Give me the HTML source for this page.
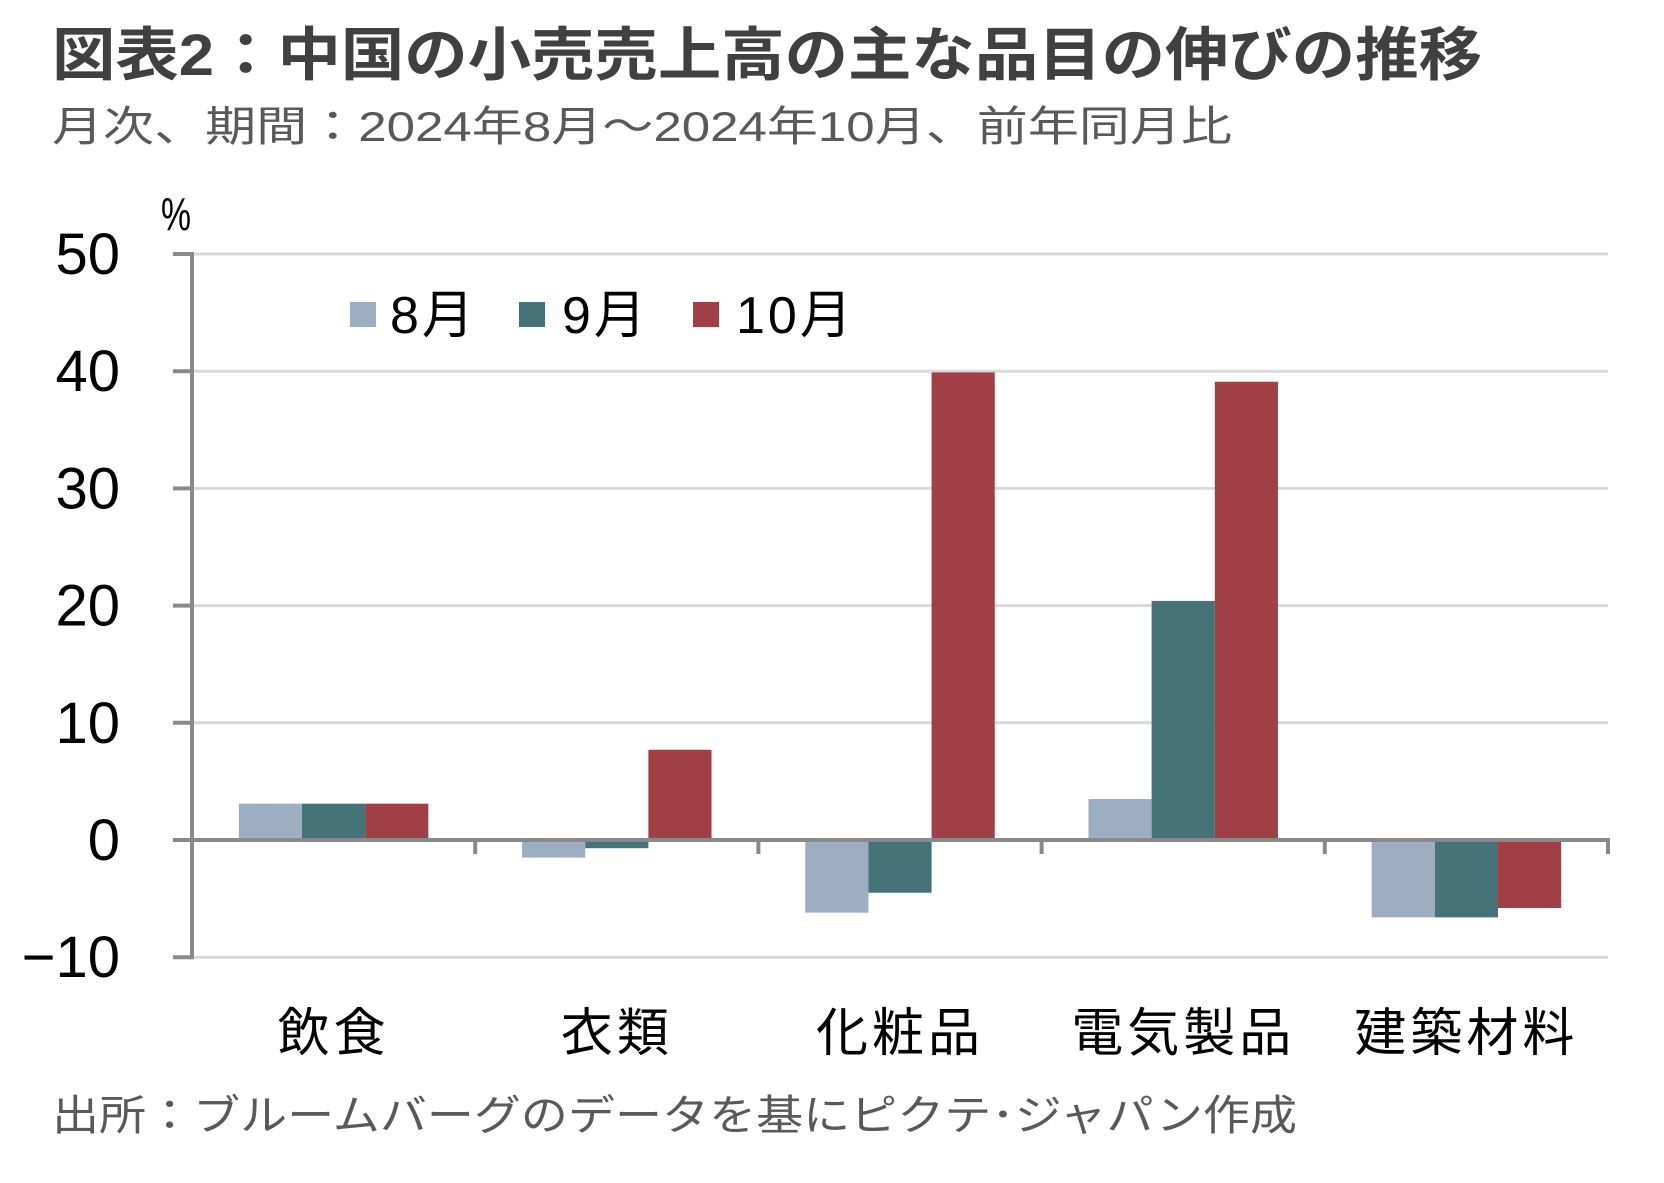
<!DOCTYPE html>
<html><head><meta charset="utf-8">
<style>
html,body{margin:0;padding:0;background:#fff;}
svg{display:block;font-family:"Liberation Sans","Noto Sans CJK JP",sans-serif;}
</style></head>
<body>
<svg id="chart" width="1664" height="1183" viewBox="0 0 1664 1183" xmlns="http://www.w3.org/2000/svg">
<text x="52" y="75" font-size="58" font-weight="bold" fill="#404040" textLength="1430" lengthAdjust="spacingAndGlyphs">図表2：中国の小売売上高の主な品目の伸びの推移</text>
<text x="52" y="141" font-size="42" fill="#595959" textLength="1180" lengthAdjust="spacingAndGlyphs">月次、期間：2024年8月～2024年10月、前年同月比</text>
<text x="176" y="230" font-size="46" fill="#000" text-anchor="middle" textLength="30" lengthAdjust="spacingAndGlyphs">%</text>
<g id="grid"></g><g id="bars"></g><g id="axes"></g><g id="labels"></g>
<g id="legend"></g>
<text x="52" y="1130" font-size="42" fill="#595959" textLength="1245" lengthAdjust="spacingAndGlyphs">出所：ブルームバーグのデータを基にピクテ･ジャパン作成</text>
</svg>
<script>
const categories = ["飲食","衣類","化粧品","電気製品","建築材料"];
const seriesNames = ["8月","9月","10月"];
const aug = [3.1,-1.5,-6.2,3.5,-6.6];
const sep = [3.1,-0.7,-4.5,20.4,-6.6];
const oct = [3.1,7.7,39.9,39.1,-5.8];
const yTicks = [50,40,30,20,10,0,-10];
const yTickLabels = ["50","40","30","20","10","0","−10"];

const colors=["#9DADC2","#457277","#A03F46"];
const series=[aug,sep,oct];
const NS="http://www.w3.org/2000/svg";
const X0=192,X1=1608,Y0=840,PX10=117.2;
const y=v=>Y0-v*PX10/10;
const catW=(X1-X0)/categories.length;
const barW=catW*0.223;
const x=(ci,si)=>X0+ci*catW+(catW-3*barW)/2+si*barW;
function mk(tag,attrs,parent){const e=document.createElementNS(NS,tag);for(const k in attrs)e.setAttribute(k,attrs[k]);document.getElementById(parent).appendChild(e);return e;}

yTicks.forEach((t,i)=>{
  if(t!==0){const g=mk("line",{x1:X0,x2:X1,y1:y(t),y2:y(t),stroke:"#D9D9D9","stroke-width":3},"grid");
  
  }
  const tk=mk("line",{x1:X0-19,x2:X0,y1:y(t),y2:y(t),stroke:"#898989","stroke-width":4},"axes");
  
  
  const lb=mk("text",{x:120,y:y(t)+20,"font-size":58,"text-anchor":"end",fill:"#000"},"labels");
  lb.textContent=yTickLabels[i];
  
  
});
series.forEach((s,si)=>{
  s.forEach((v,ci)=>{
    const r=mk("rect",{x:x(ci,si),width:barW,y:Math.min(y(v),Y0),height:Math.abs(y(v)-Y0),fill:colors[si]},"bars");
    
    
  });
});
const ya=mk("line",{x1:X0,x2:X0,y1:y(50)-2,y2:y(-10)+2,stroke:"#898989","stroke-width":4},"axes");


const xa=mk("line",{x1:X0,x2:X1+2,y1:Y0,y2:Y0,stroke:"#898989","stroke-width":4},"axes");


categories.forEach((c,ci)=>{
  const tx=X0+(ci+1)*catW;
  const t=mk("line",{x1:tx,x2:tx,y1:Y0,y2:Y0+14,stroke:"#898989","stroke-width":4},"axes");
  
  
  const lb=mk("text",{x:X0+(ci+0.5)*catW,y:1051,"font-size":52,"text-anchor":"middle","letter-spacing":4,fill:"#000"},"labels");
  lb.textContent=c;
  
  
});
const legX=[350,519,693],legT=[390,562,736];
seriesNames.forEach((n,i)=>{
  const r=mk("rect",{x:legX[i],y:302,width:26,height:25,fill:colors[i]},"legend");
  
  
  const t=mk("text",{x:legT[i],y:333,"font-size":52,"letter-spacing":3,fill:"#000"},"legend");
  t.textContent=n;
  
  
});
</script>
</body></html>
